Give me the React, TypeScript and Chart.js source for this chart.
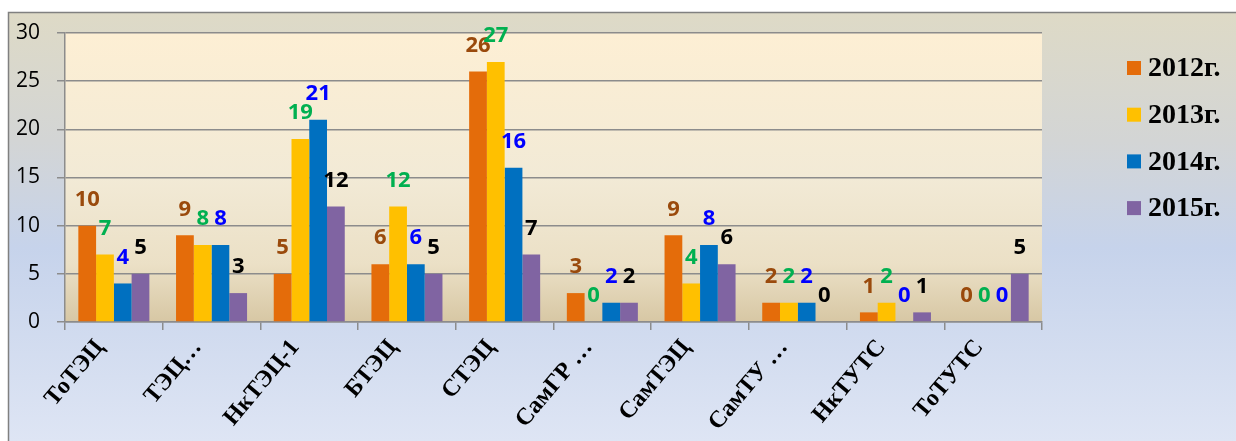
import React, { useEffect, useRef } from 'react';
import { Chart, registerables } from 'chart.js';

Chart.register(...registerables);

// Categories (stations) and yearly values
const categories = ['ТоТЭЦ', 'ТЭЦ…', 'НкТЭЦ-1', 'БТЭЦ', 'СТЭЦ', 'СамГР …', 'СамТЭЦ', 'СамТУ …', 'НкТУТС', 'ТоТУТС'];
const seriesNames = ['2012г.', '2013г.', '2014г.', '2015г.'];
const values2012 = [10, 9, 5, 6, 26, 3, 9, 2, 1, 0];
const values2013 = [7, 8, 19, 12, 27, 0, 4, 2, 2, 0];
const values2014 = [4, 8, 21, 6, 16, 2, 8, 2, 0, 0];
const values2015 = [5, 3, 12, 5, 7, 2, 6, 0, 1, 5];
const yMin = 0;
const yMax = 30;
const yStep = 5;

const barColors = ['#E46C0A', '#FFC000', '#0070C0', '#8064A2'];
const valueLabelColors = ['#9A4A0C', '#00B050', '#0000FF', '#000000'];

const GRID = '#8c8c8c';

const backgroundPlugin = {
  id: 'frameBackground',
  beforeDraw(chart: any) {
    const { ctx, width, height, chartArea } = chart;
    ctx.save();
    ctx.fillStyle = '#ffffff';
    ctx.fillRect(0, 0, width, height);

    const g = ctx.createLinearGradient(0, 12, 0, height);
    g.addColorStop(0, '#dedac6');
    g.addColorStop(0.3, '#d3d5d5');
    g.addColorStop(0.55, '#c6d3eb');
    g.addColorStop(1, '#dee5f4');
    ctx.fillStyle = g;
    ctx.fillRect(8, 12, width - 8, height - 12);

    ctx.strokeStyle = '#808080';
    ctx.lineWidth = 1.5;
    ctx.beginPath();
    ctx.moveTo(8.5, height + 4);
    ctx.lineTo(8.5, 12.5);
    ctx.lineTo(width + 4, 12.5);
    ctx.stroke();

    const { left, top, right, bottom } = chartArea;
    const pg = ctx.createLinearGradient(0, top, 0, bottom);
    pg.addColorStop(0, '#fdefd4');
    pg.addColorStop(0.5, '#f2ead6');
    pg.addColorStop(0.8, '#ebe0c6');
    pg.addColorStop(1, '#d7c7a4');
    ctx.fillStyle = pg;
    ctx.fillRect(left, top, right - left, bottom - top);
    ctx.restore();
  },
};

const valueLabelPlugin = {
  id: 'valueLabels',
  afterDatasetsDraw(chart: any) {
    const { ctx } = chart;
    ctx.save();
    ctx.font = 'bold 22px "Open Sans"';
    ctx.textAlign = 'center';
    ctx.textBaseline = 'middle';
    chart.data.datasets.forEach((ds: any, i: number) => {
      const meta = chart.getDatasetMeta(i);
      ctx.fillStyle = valueLabelColors[i];
      meta.data.forEach((bar: any, j: number) => {
        ctx.fillText(String(ds.data[j]), bar.x, bar.y - 26);
      });
    });
    ctx.restore();
  },
};

const legendPlugin = {
  id: 'sideLegend',
  afterDraw(chart: any) {
    const { ctx, chartArea } = chart;
    ctx.save();
    ctx.font = 'bold 28px "Liberation Serif"';
    ctx.textAlign = 'left';
    ctx.textBaseline = 'middle';
    seriesNames.forEach((name, i) => {
      const cy = chartArea.top + 35 + i * 46.7;
      const sx = chartArea.right + 85;
      ctx.fillStyle = barColors[i];
      ctx.fillRect(sx, cy - 7, 14, 14);
      ctx.fillStyle = '#000000';
      ctx.fillText(name, sx + 21, cy + 1);
    });
    ctx.restore();
  },
};

export default function App() {
  const canvasRef = useRef<HTMLCanvasElement | null>(null);

  useEffect(() => {
    if (!canvasRef.current) return;
    const series = [values2012, values2013, values2014, values2015];
    const chart = new Chart(canvasRef.current, {
      type: 'bar',
      data: {
        labels: categories,
        datasets: series.map((vals, i) => ({
          label: seriesNames[i],
          data: vals,
          backgroundColor: barColors[i],
          borderWidth: 0,
          barPercentage: 1,
          categoryPercentage: 0.727,
        })),
      },
      options: {
        animation: false,
        responsive: true,
        maintainAspectRatio: false,
        layout: { padding: { top: 33, right: 194, left: 0, bottom: 0 } },
        plugins: {
          legend: { display: false },
          tooltip: { enabled: false },
          title: { display: false },
        },
        scales: {
          x: {
            offset: true,
            grid: {
              display: true,
              drawOnChartArea: false,
              drawTicks: true,
              tickLength: 8,
              color: GRID,
              lineWidth: 1.5,
              offset: true,
            },
            border: { color: GRID, width: 1.5 },
            ticks: {
              autoSkip: false,
              maxRotation: 50,
              minRotation: 50,
              padding: 4,
              labelOffset: -14,
              color: '#000000',
              font: { family: 'Liberation Serif', size: 24, weight: 'bold' },
            },
            afterFit: (s: any) => {
              s.height = 119;
              s.paddingLeft = 0;
              s.paddingRight = 0;
            },
          },
          y: {
            min: yMin,
            max: yMax,
            ticks: {
              stepSize: yStep,
              padding: 17,
              color: '#000000',
              font: { family: 'Open Sans', size: 21 },
            },
            grid: { color: GRID, lineWidth: 1.5, tickLength: 8 },
            border: { color: GRID, width: 1.5 },
            afterFit: (s: any) => {
              s.width = 65;
              s.paddingTop = 0;
              s.paddingBottom = 0;
            },
          },
        },
      },
      plugins: [backgroundPlugin, valueLabelPlugin, legendPlugin],
    });
    return () => chart.destroy();
  }, []);

  return (
    <div style={{ position: 'fixed', left: 0, top: 0, width: 1236, height: 441 }}>
      <canvas ref={canvasRef} />
    </div>
  );
}
